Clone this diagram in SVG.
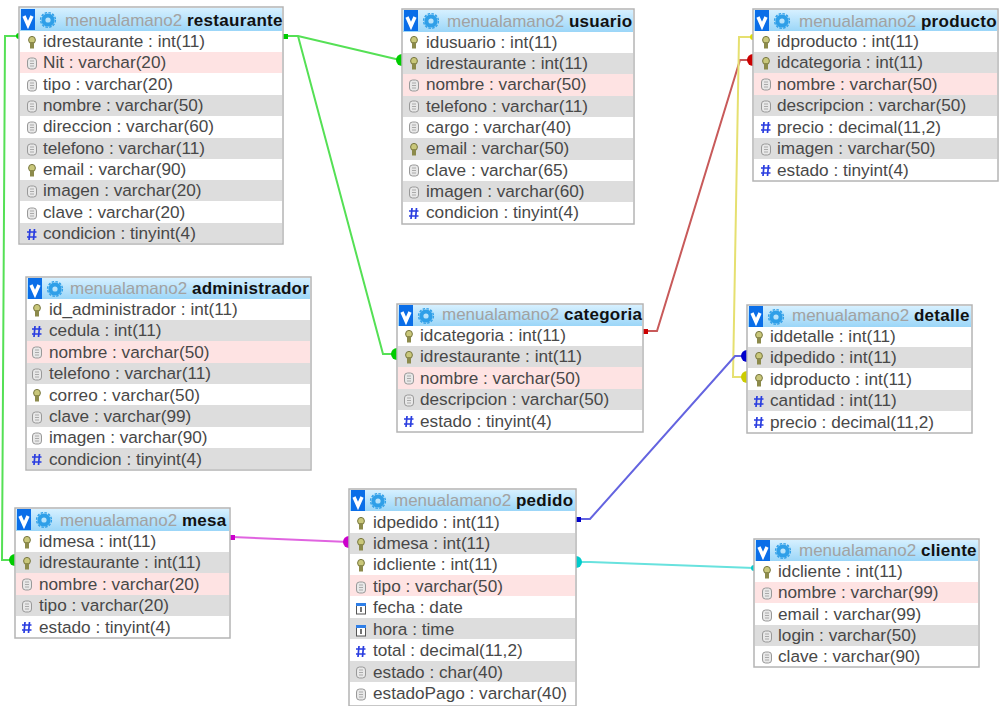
<svg xmlns="http://www.w3.org/2000/svg" width="1000" height="706" viewBox="0 0 1000 706">
<style>
text{font-family:"Liberation Sans",Arial,sans-serif;font-size:17.200px;fill:#484848}
.box{fill:#fff;stroke:#b4b4b4;stroke-width:1.5}
.hd{fill:url(#hg)}
.g{fill:#ddd}.p{fill:#fee3e3}
text.m{fill:#a2a2a2;font-size:17px}
.n{font-weight:bold;fill:#111;letter-spacing:.3px}
.c{fill:none;stroke-width:2}
</style>
<defs>
<linearGradient id="hg" x1="0" y1="0" x2="0" y2="1"><stop offset="0" stop-color="#d6f0ff"/><stop offset="1" stop-color="#9bd6f8"/></linearGradient>
<g id="head">
<rect x="2" y="2" width="14" height="21" fill="#0a6ee8"/>
<path d="M5 9l4 9 4-9" fill="none" stroke="#fff" stroke-width="3.400"/>
<circle cx="29" cy="13" r="4.600" fill="none" stroke="#2f9fe8" stroke-width="4"/>
<circle cx="29" cy="13" r="7.400" fill="none" stroke="#2f9fe8" stroke-width="1.400" stroke-dasharray="2.500 1.400"/>
</g>
<g id="k"><ellipse cx="0" cy="-2" rx="3.400" ry="3.600" fill="#c9c77a" stroke="#77763f"/><rect x="-2" y="0" width="4" height="6.500" fill="#8c8a4b"/></g>
<g id="f"><rect x="-4.500" y="-5" width="9" height="11" rx="3" fill="#e8e8e8" stroke="#999"/><path d="M-2 -2h4M-2 .5h4M-2 3h4" stroke="#aaa" fill="none"/></g>
<g id="h"><path d="M-2 -5l-1 11M2.500 -5l-1 11M-5 -2h9.500M-5 3h9.500" stroke="#2a3de0" stroke-width="1.700" fill="none"/></g>
<g id="d"><rect x="-4.500" y="-4" width="9" height="10" fill="#fff" stroke="#555"/><rect x="-5" y="-5" width="10" height="3" fill="#2f7fe8"/><path d="M0 -1v5" stroke="#444" stroke-width="1.500"/></g>
</defs>
<rect width="1000" height="706" fill="#fff"/>
<g id="connectors">
<path class="c" stroke="#55e055" d="M19 36H5L2 560H15"/>
<path class="c" stroke="#55e055" d="M285 36H298L400 60"/>
<path class="c" stroke="#55e055" d="M298 36L383 354H397"/>
<path class="c" stroke="#c85a5a" d="M645 331H657L740 60H753"/>
<path class="c" stroke="#e6e070" d="M753 37H739L733 377H747"/>
<path class="c" stroke="#6464e0" d="M577 519H590L735 356H747"/>
<path class="c" stroke="#68e2de" d="M578 562H590L754 568"/>
<path class="c" stroke="#e064e0" d="M232 537L349 542"/>
<g>
<rect x="283" y="34" width="5" height="5" fill="#00cc00"/>
<path d="M19 33a3 3 0 0 0 0 6z" fill="#00cc00"/>
<path d="M402 54a6 6 0 0 0 0 12z" fill="#00cc00"/>
<path d="M397 348a6 6 0 0 0 0 12z" fill="#00cc00"/>
<path d="M15 554a6 6 0 0 0 0 12z" fill="#00cc00"/>
<rect x="643" y="329" width="5" height="5" fill="#cc0000"/>
<path d="M753 54a6 6 0 0 0 0 12z" fill="#cc0000"/>
<path d="M753 34a3 3 0 0 0 0 6z" fill="#dddd00"/>
<path d="M747 371a6 6 0 0 0 0 12z" fill="#cccc00"/>
<rect x="576" y="517" width="5" height="5" fill="#0000cc"/>
<path d="M747 350a6 6 0 0 0 0 12z" fill="#0000cc"/>
<path d="M576 556a6 6 0 0 1 0 12z" fill="#00cccc"/>
<path d="M754 565a3 3 0 0 0 0 6z" fill="#00cccc"/>
<rect x="230" y="535" width="5" height="5" fill="#cc00cc"/>
<path d="M349 536a6 6 0 0 0 0 12z" fill="#cc00cc"/>
</g>
</g>
<g id="restaurante" transform="translate(19 7)">
<rect class="box" width="264" height="237"/><rect class="hd" x="1" y="1" width="262" height="23"/><use href="#head"/>
<text class="m" x="46" y="19">menualamano2 <tspan class="n">restaurante</tspan></text>
<rect class="p" x="1" y="45" width="262" height="21"/><rect class="g" x="1" y="88" width="262" height="21"/><rect class="g" x="1" y="131" width="262" height="21"/><rect class="g" x="1" y="173" width="262" height="21"/><rect class="g" x="1" y="216" width="262" height="20"/>
<use href="#k" x="13" y="35"/><text x="24" y="40">idrestaurante : int(11)</text>
<use href="#f" x="13" y="56"/><text x="24" y="61">Nit : varchar(20)</text>
<use href="#f" x="13" y="78"/><text x="24" y="83">tipo : varchar(20)</text>
<use href="#f" x="13" y="99"/><text x="24" y="104">nombre : varchar(50)</text>
<use href="#f" x="13" y="120"/><text x="24" y="125">direccion : varchar(60)</text>
<use href="#f" x="13" y="142"/><text x="24" y="147">telefono : varchar(11)</text>
<use href="#k" x="13" y="163"/><text x="24" y="168">email : varchar(90)</text>
<use href="#f" x="13" y="184"/><text x="24" y="189">imagen : varchar(20)</text>
<use href="#f" x="13" y="206"/><text x="24" y="211">clave : varchar(20)</text>
<use href="#h" x="13" y="227"/><text x="24" y="232">condicion : tinyint(4)</text>
</g>
<g id="usuario" transform="translate(402 9)">
<rect class="box" width="232" height="215"/><rect class="hd" x="1" y="1" width="230" height="22"/><use href="#head" y="-1"/>
<text class="m" x="45" y="18">menualamano2 <tspan class="n">usuario</tspan></text>
<rect class="g" x="1" y="44" width="230" height="21"/><rect class="p" x="1" y="65" width="230" height="22"/><rect class="g" x="1" y="87" width="230" height="21"/><rect class="g" x="1" y="129" width="230" height="22"/><rect class="g" x="1" y="172" width="230" height="21"/>
<use href="#k" x="12" y="33"/><text x="24" y="39">idusuario : int(11)</text>
<use href="#k" x="12" y="54"/><text x="24" y="60">idrestaurante : int(11)</text>
<use href="#f" x="12" y="76"/><text x="24" y="81">nombre : varchar(50)</text>
<use href="#f" x="12" y="97"/><text x="24" y="103">telefono : varchar(11)</text>
<use href="#f" x="12" y="118"/><text x="24" y="124">cargo : varchar(40)</text>
<use href="#k" x="12" y="140"/><text x="24" y="145">email : varchar(50)</text>
<use href="#f" x="12" y="161"/><text x="24" y="167">clave : varchar(65)</text>
<use href="#f" x="12" y="183"/><text x="24" y="188">imagen : varchar(60)</text>
<use href="#h" x="12" y="204"/><text x="24" y="209">condicion : tinyint(4)</text>
</g>
<g id="producto" transform="translate(753 9)">
<rect class="box" width="245" height="172"/><rect class="hd" x="1" y="1" width="243" height="21"/><use href="#head" y="-1"/>
<text class="m" x="46" y="18">menualamano2 <tspan class="n">producto</tspan></text>
<rect class="g" x="1" y="43" width="243" height="21"/><rect class="p" x="1" y="64" width="243" height="22"/><rect class="g" x="1" y="86" width="243" height="21"/><rect class="g" x="1" y="129" width="243" height="21"/>
<use href="#k" x="13" y="33"/><text x="24" y="38">idproducto : int(11)</text>
<use href="#k" x="13" y="54"/><text x="24" y="59">idcategoria : int(11)</text>
<use href="#f" x="13" y="75"/><text x="24" y="81">nombre : varchar(50)</text>
<use href="#f" x="13" y="97"/><text x="24" y="102">descripcion : varchar(50)</text>
<use href="#h" x="13" y="118"/><text x="24" y="124">precio : decimal(11,2)</text>
<use href="#f" x="13" y="140"/><text x="24" y="145">imagen : varchar(50)</text>
<use href="#h" x="13" y="161"/><text x="24" y="167">estado : tinyint(4)</text>
</g>
<g id="administrador" transform="translate(26 277)">
<rect class="box" width="285" height="193"/><rect class="hd" x="1" y="1" width="283" height="21"/><use href="#head" y="-1"/>
<text class="m" x="44" y="17">menualamano2 <tspan class="n">administrador</tspan></text>
<rect class="g" x="1" y="43" width="283" height="21"/><rect class="p" x="1" y="64" width="283" height="22"/><rect class="g" x="1" y="86" width="283" height="21"/><rect class="g" x="1" y="128" width="283" height="22"/><rect class="g" x="1" y="171" width="283" height="21"/>
<use href="#k" x="11" y="33"/><text x="23" y="38">id_administrador : int(11)</text>
<use href="#h" x="11" y="54"/><text x="23" y="59">cedula : int(11)</text>
<use href="#f" x="11" y="75"/><text x="23" y="81">nombre : varchar(50)</text>
<use href="#f" x="11" y="97"/><text x="23" y="102">telefono : varchar(11)</text>
<use href="#k" x="11" y="118"/><text x="23" y="124">correo : varchar(50)</text>
<use href="#f" x="11" y="140"/><text x="23" y="145">clave : varchar(99)</text>
<use href="#f" x="11" y="161"/><text x="23" y="166">imagen : varchar(90)</text>
<use href="#h" x="11" y="182"/><text x="23" y="188">condicion : tinyint(4)</text>
</g>
<g id="categoria" transform="translate(397 304)">
<rect class="box" width="246" height="128"/><rect class="hd" x="1" y="1" width="244" height="21"/><use href="#head" y="-1"/>
<text class="m" x="45" y="16">menualamano2 <tspan class="n">categoria</tspan></text>
<rect class="g" x="1" y="42" width="244" height="21"/><rect class="p" x="1" y="63" width="244" height="22"/><rect class="g" x="1" y="85" width="244" height="21"/>
<use href="#k" x="12" y="32"/><text x="23" y="37">idcategoria : int(11)</text>
<use href="#k" x="12" y="53"/><text x="23" y="58">idrestaurante : int(11)</text>
<use href="#f" x="12" y="74"/><text x="23" y="80">nombre : varchar(50)</text>
<use href="#f" x="12" y="96"/><text x="23" y="101">descripcion : varchar(50)</text>
<use href="#h" x="12" y="117"/><text x="23" y="123">estado : tinyint(4)</text>
</g>
<g id="detalle" transform="translate(747 305)">
<rect class="box" width="225" height="128"/><rect class="hd" x="1" y="1" width="223" height="21"/><use href="#head" y="-1"/>
<text class="m" x="45" y="16">menualamano2 <tspan class="n">detalle</tspan></text>
<rect class="g" x="1" y="42" width="223" height="21"/><rect class="g" x="1" y="85" width="223" height="21"/>
<use href="#k" x="12" y="32"/><text x="23" y="37">iddetalle : int(11)</text>
<use href="#k" x="12" y="53"/><text x="23" y="58">idpedido : int(11)</text>
<use href="#k" x="12" y="75"/><text x="23" y="80">idproducto : int(11)</text>
<use href="#h" x="12" y="96"/><text x="23" y="101">cantidad : int(11)</text>
<use href="#h" x="12" y="117"/><text x="23" y="123">precio : decimal(11,2)</text>
</g>
<g id="mesa" transform="translate(15 508)">
<rect class="box" width="215" height="130"/><rect class="hd" x="1" y="1" width="213" height="22"/><use href="#head" y="-1"/>
<text class="m" x="45" y="18">menualamano2 <tspan class="n">mesa</tspan></text>
<rect class="g" x="1" y="44" width="213" height="21"/><rect class="p" x="1" y="65" width="213" height="22"/><rect class="g" x="1" y="87" width="213" height="21"/>
<use href="#k" x="12" y="34"/><text x="24" y="39">idmesa : int(11)</text>
<use href="#k" x="12" y="55"/><text x="24" y="60">idrestaurante : int(11)</text>
<use href="#f" x="12" y="76"/><text x="24" y="82">nombre : varchar(20)</text>
<use href="#f" x="12" y="98"/><text x="24" y="103">tipo : varchar(20)</text>
<use href="#h" x="12" y="119"/><text x="24" y="125">estado : tinyint(4)</text>
</g>
<g id="pedido" transform="translate(349 489)">
<rect class="box" width="227" height="217"/><rect class="hd" x="1" y="1" width="225" height="21"/><use href="#head" y="-1"/>
<text class="m" x="45" y="17">menualamano2 <tspan class="n">pedido</tspan></text>
<rect class="g" x="1" y="44" width="225" height="21"/><rect class="p" x="1" y="86" width="225" height="21"/><rect class="g" x="1" y="129" width="225" height="21"/><rect class="g" x="1" y="172" width="225" height="21"/>
<use href="#k" x="12" y="34"/><text x="24" y="39">idpedido : int(11)</text>
<use href="#k" x="12" y="55"/><text x="24" y="60">idmesa : int(11)</text>
<use href="#k" x="12" y="76"/><text x="24" y="81">idcliente : int(11)</text>
<use href="#f" x="12" y="98"/><text x="24" y="103">tipo : varchar(50)</text>
<use href="#d" x="12" y="119"/><text x="24" y="124">fecha : date</text>
<use href="#d" x="12" y="141"/><text x="24" y="146">hora : time</text>
<use href="#h" x="12" y="162"/><text x="24" y="167">total : decimal(11,2)</text>
<use href="#f" x="12" y="183"/><text x="24" y="189">estado : char(40)</text>
<use href="#f" x="12" y="205"/><text x="24" y="210">estadoPago : varchar(40)</text>
</g>
<g id="cliente" transform="translate(754 539)">
<rect class="box" width="225" height="128"/><rect class="hd" x="1" y="1" width="223" height="21"/><use href="#head" y="-1"/>
<text class="m" x="45" y="17">menualamano2 <tspan class="n">cliente</tspan></text>
<rect class="p" x="1" y="43" width="223" height="21"/><rect class="g" x="1" y="86" width="223" height="21"/>
<use href="#k" x="13" y="33"/><text x="24" y="38">idcliente : int(11)</text>
<use href="#f" x="13" y="54"/><text x="24" y="59">nombre : varchar(99)</text>
<use href="#f" x="13" y="76"/><text x="24" y="81">email : varchar(99)</text>
<use href="#f" x="13" y="97"/><text x="24" y="102">login : varchar(50)</text>
<use href="#f" x="13" y="118"/><text x="24" y="123">clave : varchar(90)</text>
</g>
</svg>
